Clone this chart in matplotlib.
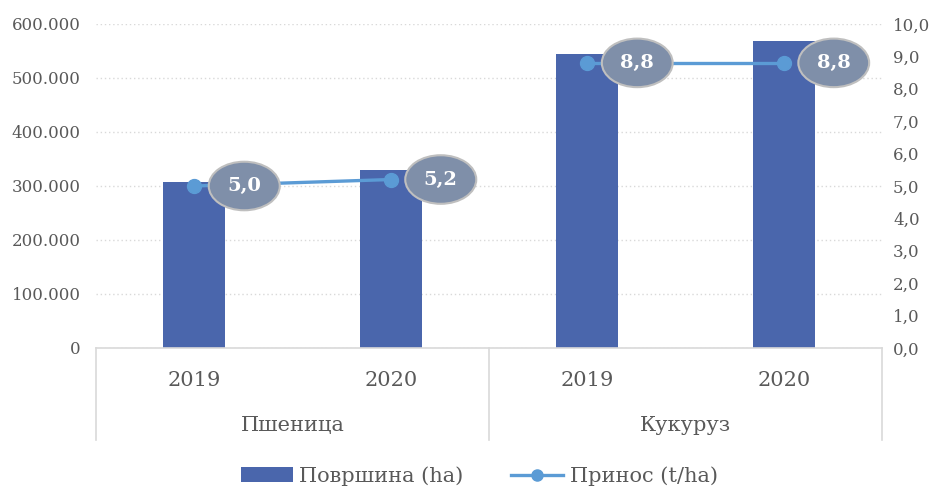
import matplotlib
matplotlib.use("Agg")
import matplotlib.pyplot as plt
from matplotlib.ticker import FuncFormatter, MultipleLocator
from matplotlib.transforms import blended_transform_factory

# ---- data ----
groups = ["Пшеница", "Кукуруз"]
years = ["2019", "2020", "2019", "2020"]
area_ha = [308000, 330000, 545000, 569000]
yield_tha = [5.0, 5.2, 8.8, 8.8]
yield_labels = ["5,0", "5,2", "8,8", "8,8"]
legend_labels = ["Површина (ha)", "Принос (t/ha)"]

BAR = "#4A66AC"
LINE = "#5B9BD5"
TXT = "#595959"
GRID = "#D9D9D9"

plt.rcParams["font.family"] = ["DejaVu Serif"]

fig = plt.figure(figsize=(9.38, 4.88), dpi=100)
ax = fig.add_axes([96/938, 1-348/488, (882-96)/938, (348-24)/488])
ax2 = ax.twinx()

x = list(range(len(area_ha)))
bars = ax.bar(x, area_ha, width=0.315, color=BAR, zorder=2, label=legend_labels[0])
ax.set_xlim(-0.5, len(x)-0.5)
ax.set_ylim(0, 600000)
ax.yaxis.set_major_locator(MultipleLocator(100000))
ax.yaxis.set_major_formatter(FuncFormatter(lambda v, p: f"{int(v):,}".replace(",", ".")))
ax.grid(axis="y", linestyle=(0, (1, 2)), color=GRID, linewidth=1, zorder=0)
ax.set_axisbelow(True)
ax.tick_params(axis="y", length=0, pad=11, labelsize=12, labelcolor=TXT)
ax.set_xticks([])
for s in ["top", "left", "right"]:
    ax.spines[s].set_visible(False)
ax.spines["bottom"].set_color(GRID)
ax.spines["bottom"].set_linewidth(1.2)

# line drawn separately per crop group (no connection between groups)
n_per = len(years) // len(groups)
line = None
for gi in range(len(groups)):
    sl = slice(gi*n_per, (gi+1)*n_per)
    line, = ax2.plot(x[sl], yield_tha[sl], color=LINE, lw=2.4, marker="o",
                     markersize=10, zorder=3, label=legend_labels[1])
ax2.set_ylim(0, 10)
ax2.yaxis.set_major_locator(MultipleLocator(1))
ax2.yaxis.set_major_formatter(FuncFormatter(lambda v, p: f"{v:.1f}".replace(".", ",")))
ax2.tick_params(axis="y", length=0, pad=8, labelsize=12, labelcolor=TXT)
for s in ["top", "left", "right", "bottom"]:
    ax2.spines[s].set_visible(False)

for xi, yi, lab in zip(x, yield_tha, yield_labels):
    ax2.annotate(lab, (xi, yi), xytext=(36, 0), textcoords="offset points",
                 ha="center", va="center", color="white", fontsize=14,
                 fontweight="bold", zorder=5,
                 bbox=dict(boxstyle="ellipse,pad=0.42", fc="#7F8FA9",
                           ec="#BFBFBF", lw=1.5))

# multi-level category axis
trans = blended_transform_factory(ax.transData, ax.transAxes)
for xv in [-0.5, 1.5, 3.5]:
    ax.plot([xv, xv], [0, -0.284], transform=trans, color=GRID, lw=1.2, clip_on=False)
for xi, yr in zip(x, years):
    ax.text(xi, -0.099, yr, transform=trans, ha="center", va="center",
            fontsize=15, color=TXT)
for gi, g in enumerate(groups):
    ax.text(gi*n_per + (n_per-1)/2, -0.238, g, transform=trans, ha="center",
            va="center", fontsize=15, color=TXT)

fig.legend(handles=[bars, line], labels=legend_labels, loc="center",
           bbox_to_anchor=(0.511, 1-476/488), ncol=2, frameon=False,
           fontsize=15, labelcolor=TXT, handlelength=2.5, handletextpad=0.3,
           columnspacing=2.3, borderaxespad=0, borderpad=0, markerscale=0.8)

fig.savefig("out.png", dpi=100)
